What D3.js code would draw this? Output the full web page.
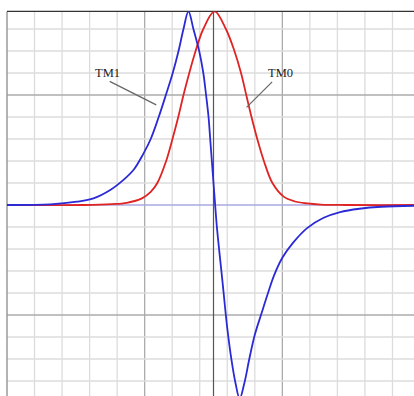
<!DOCTYPE html>
<html><head><meta charset="utf-8">
<script src="https://cdn.jsdelivr.net/npm/d3@7"></script>
<style>html,body{margin:0;padding:0;background:#fff;overflow:hidden}</style>
</head><body>
<script>
// ---- data (x in grid units, y in grid units) ----
const gridX = [-6.5,-5.5,-4.5,-3.5,-2.5,-1.5,-0.5,0.5,1.5,2.5,3.5,4.5,5.5,6.5,7.5];
const majorX = [-2.5, 2.5];
const gridY = [-8,-7,-6,-5,-4,-3,-2,-1,1,2,3,4,5,6,7,8];
const majorY = [-5, 5];

const tm0X = [-7.5,-4.7,-3.7,-3.15,-2.6,-2.28,-2.04,-1.72,-1.49,-1.28,-1.09,-0.88,-0.65,-0.37,0.04,0.45,0.76,1.0,1.19,1.38,1.59,1.83,2.14,2.55,2.93,3.4,3.9,4.8,7.5];
const tm0Y = [0,0,0.04,0.1,0.3,0.6,1.0,2.0,3.0,4.0,5.0,6.0,7.0,8.0,8.8,8.0,7.0,6.0,5.0,4.0,3.0,2.0,1.0,0.38,0.17,0.07,0.02,0,0];

const tm1X = [-7.5,-5.93,-4.96,-4.36,-3.75,-3.27,-2.9,-2.56,-2.28,-1.99,-1.73,-1.48,-1.27,-1.09,-0.91,-0.73,-0.52,-0.37,-0.27,-0.18,-0.12,-0.06,0.0,0.06,0.13,0.32,0.5,0.66,0.8,0.95,1.12,1.3,1.5,1.75,1.98,2.2,2.5,2.9,3.4,4.0,4.6,5.3,6.1,7.5];
const tm1Y = [0,0.03,0.15,0.30,0.68,1.14,1.6,2.3,3.0,4.0,5.0,6.0,7.0,8.0,8.8,8.0,7.0,6.0,5.0,4.0,3.0,2.0,1.0,0,-1.1,-3.4,-5.6,-7.1,-8.1,-8.8,-8.1,-7.0,-5.9,-4.9,-4.0,-3.2,-2.4,-1.7,-1.05,-0.58,-0.32,-0.17,-0.08,-0.03];

const labels = ["TM1", "TM0"];
const labelPos = [[-4.3, 5.8], [1.98, 5.8]];
const leaderFrom = [[-3.77, 5.62], [2.13, 5.6]];
const leaderTo = [[-2.08, 4.55], [1.2, 4.44]];

// ---- drawing ----
const W = 414, H = 396;
const x = d3.scaleLinear().domain([-7.5, 7.5]).range([7, 420]);
const y = d3.scaleLinear().domain([-8.8, 8.8]).range([398.6, 11.4]);

const svg = d3.select("body").append("svg").attr("width", W).attr("height", H);
svg.append("defs").append("clipPath").attr("id","clip")
  .append("rect").attr("x", x(-7.5)).attr("y", y(8.8)).attr("width", x(7.5)-x(-7.5)).attr("height", y(-8.8)-y(8.8));

const g = svg.append("g");
g.selectAll("line.gx").data(gridX).join("line")
  .attr("x1", d=>x(d)).attr("x2", d=>x(d)).attr("y1", y(8.8)).attr("y2", y(-8.8))
  .attr("stroke", d=>majorX.includes(d)?"#ababab":"#dcdcdc").attr("stroke-width",1.3);
g.selectAll("line.gy").data(gridY).join("line")
  .attr("y1", d=>y(d)).attr("y2", d=>y(d)).attr("x1", x(-7.5)).attr("x2", x(7.5))
  .attr("stroke", d=>majorY.includes(d)?"#ababab":"#dcdcdc").attr("stroke-width",1.3);

// left border
g.append("line").attr("x1", x(-7.5)).attr("x2", x(-7.5)).attr("y1", y(8.8)).attr("y2", y(-8.8))
  .attr("stroke","#9a9a9a").attr("stroke-width",1.5);
// horizontal axis
g.append("line").attr("x1", x(-7.5)).attr("x2", x(7.5)).attr("y1", y(0)).attr("y2", y(0))
  .attr("stroke","#a8a8e0").attr("stroke-width",1.5);
// vertical axis
g.append("line").attr("x1", x(0)).attr("x2", x(0)).attr("y1", y(8.8)).attr("y2", y(-8.8))
  .attr("stroke","#555").attr("stroke-width",1.2);
// top border
g.append("line").attr("x1", x(-7.5)).attr("x2", x(7.5)).attr("y1", y(8.8)).attr("y2", y(8.8))
  .attr("stroke","#333").attr("stroke-width",1.3);

const line = d3.line().x(d=>x(d[0])).y(d=>y(d[1])).curve(d3.curveCatmullRom.alpha(0.5));
const cg = svg.append("g").attr("clip-path","url(#clip)");
cg.append("path").datum(d3.zip(tm0X, tm0Y)).attr("d", line)
  .attr("fill","none").attr("stroke","#e02424").attr("stroke-width",1.8);
cg.append("path").datum(d3.zip(tm1X, tm1Y)).attr("d", line)
  .attr("fill","none").attr("stroke","#2a2ad6").attr("stroke-width",1.8);

// labels with leader lines
labels.forEach((t,i)=>{
  svg.append("line").attr("x1", x(leaderFrom[i][0])).attr("y1", y(leaderFrom[i][1]))
    .attr("x2", x(leaderTo[i][0])).attr("y2", y(leaderTo[i][1]))
    .attr("stroke","#666").attr("stroke-width",1.2);
  svg.append("text").attr("x", x(labelPos[i][0])).attr("y", y(labelPos[i][1]))
    .attr("font-family","'Liberation Serif', 'DejaVu Serif', serif").attr("font-size",12.5)
    .attr("fill","#222").text(t);
});
</script>
</body></html>
